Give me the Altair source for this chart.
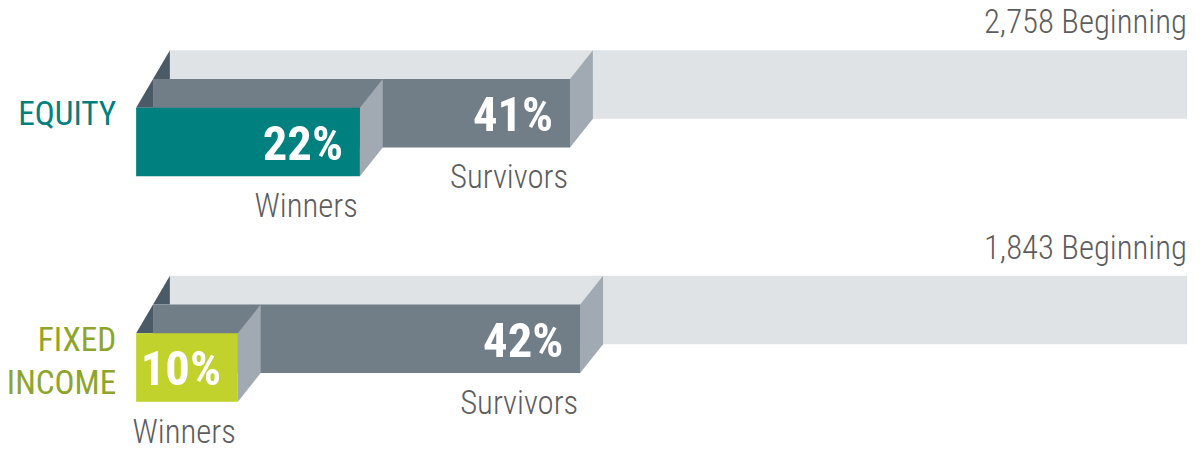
import altair as alt
import pandas as pd

# ---- data ----
categories = ["EQUITY", "FIXED INCOME"]
beginning_funds = [2758, 1843]
beginning_pct = [100, 100]
survivors_pct = [41, 42]
winners_pct = [22, 10]
layer_names = ["Winners", "Survivors", "Beginning"]

# ---- style ----
W, H = 1192, 442
PX_PER_PCT = 10.24
X_ORIGIN_PX = 129          # where 0 % of the front layer sits
LAYER_DX = 17 / PX_PER_PCT  # shift per depth layer (in % units)
SIDE_DX = 23 / PX_PER_PCT   # width of the right side faces (in % units)
LAYER_DY = 29
BAR_H = 69
GROUP_TOP0 = 41
GROUP_STEP = 227

WINNER_COLORS = ["#00807f", "#c0d22b"]
CAT_COLORS = ["#00807f", "#8ea52b"]
SURV_COLOR = "#717e88"
BACK_COLOR = "#dfe3e6"
SIDE_COLOR = "#a1aab2"
WEDGE_COLOR = "#4b5a67"
TEXT_GREY = "#5d5d5d"
FONT = "Roboto Condensed"

# ---- build geometry tables from the data ----
rows, sides, wedges = [], [], []
for g, cat in enumerate(categories):
    vals = [winners_pct[g], survivors_pct[g], beginning_pct[g]]
    for L in range(3):
        top = GROUP_TOP0 + g * GROUP_STEP + (2 - L) * LAYER_DY
        x0 = L * LAYER_DX
        x1 = x0 + vals[L]
        if L == 0:
            fill = WINNER_COLORS[g]
        elif L == 1:
            fill = SURV_COLOR
        else:
            fill = BACK_COLOR
        rows.append(dict(group=cat, g=g, layer=L, name=layer_names[L],
                         value=vals[L], x0=x0, x1=x1, front_x=0, top=top,
                         bottom=top + BAR_H, mid=top + BAR_H / 2, fill=fill,
                         pct=f"{vals[L]}%",
                         begin=f"{beginning_funds[g]:,} Beginning",
                         catcolor=CAT_COLORS[g]))
        if L < 2:
            fid = f"{g}-{L}"
            sides.append(dict(id=fid, layer=L, x=x1, y=top, y2=top + BAR_H))
            sides.append(dict(id=fid, layer=L, x=x1 + SIDE_DX,
                              y=top - LAYER_DY, y2=top + BAR_H - LAYER_DY))
            wedges.append(dict(id=fid, x=x0, y=top, y2=top))
            wedges.append(dict(id=fid, x=x0 + LAYER_DX, y=top - LAYER_DY, y2=top))

bars = pd.DataFrame(rows)
side_df = pd.DataFrame(sides)
wedge_df = pd.DataFrame(wedges)

xmin = -X_ORIGIN_PX / PX_PER_PCT
xmax = (W - X_ORIGIN_PX) / PX_PER_PCT
xs = alt.Scale(domain=[xmin, xmax], nice=False, zero=False)
ys = alt.Scale(domain=[0, H], reverse=True, nice=False, zero=False)

base = alt.Chart(bars)


def rect_layer(L):
    return base.transform_filter(alt.datum.layer == L).mark_rect().encode(
        x=alt.X("x0:Q", scale=xs, axis=None),
        x2="x1:Q",
        y=alt.Y("top:Q", scale=ys, axis=None),
        y2="bottom:Q",
        color=alt.Color("fill:N", scale=None),
    )


def side_layer(L):
    return alt.Chart(side_df).transform_filter(alt.datum.layer == L).mark_area(
        color=SIDE_COLOR, orient="vertical").encode(
        x=alt.X("x:Q", scale=xs, axis=None),
        y=alt.Y("y:Q", scale=ys, axis=None),
        y2="y2:Q",
        detail="id:N",
    )


wedge = alt.Chart(wedge_df).mark_area(color=WEDGE_COLOR, orient="vertical").encode(
    x=alt.X("x:Q", scale=xs, axis=None),
    y=alt.Y("y:Q", scale=ys, axis=None),
    y2="y2:Q",
    detail="id:N",
)

begin_text = base.transform_filter(alt.datum.layer == 2).mark_text(
    align="right", baseline="alphabetic", dy=-17, font=FONT, fontSize=33,
    fontWeight=300, color=TEXT_GREY).encode(
    x=alt.X("x1:Q", scale=xs, axis=None),
    y=alt.Y("top:Q", scale=ys, axis=None),
    text="begin:N",
)

cat_text = base.transform_filter(alt.datum.layer == 1).mark_text(
    align="right", baseline="middle", dx=-20, dy=2, font=FONT, fontSize=33.5,
    fontWeight=400, lineBreak=" ", lineHeight=44).encode(
    x=alt.X("front_x:Q", scale=xs, axis=None),
    y=alt.Y("mid:Q", scale=ys, axis=None),
    text="group:N",
    color=alt.Color("catcolor:N", scale=None),
)

pct_text = base.transform_filter(alt.datum.layer < 2).mark_text(
    align="right", baseline="middle", dx=-17, dy=3, font=FONT, fontSize=49,
    fontWeight="bold", color="white").encode(
    x=alt.X("x1:Q", scale=xs, axis=None),
    y=alt.Y("mid:Q", scale=ys, axis=None),
    text="pct:N",
)

name_text = base.transform_filter(alt.datum.layer < 2).mark_text(
    align="right", baseline="alphabetic", dx=-2, dy=41, font=FONT, fontSize=33,
    fontWeight=300, color=TEXT_GREY).encode(
    x=alt.X("x1:Q", scale=xs, axis=None),
    y=alt.Y("bottom:Q", scale=ys, axis=None),
    text="name:N",
)

chart = alt.layer(
    rect_layer(2), wedge, side_layer(1), rect_layer(1), side_layer(0), rect_layer(0),
    begin_text, cat_text, pct_text, name_text,
).properties(
    width=W, height=H, padding=0, autosize=alt.AutoSizeParams(type="none"),
    background="white",
).configure_view(stroke=None)

chart.save("out.html", embed_options={"renderer": "svg", "actions": False})
